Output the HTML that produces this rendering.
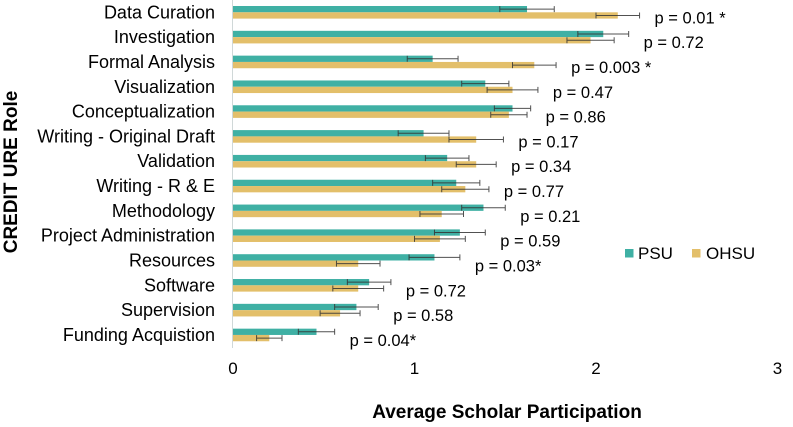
<!DOCTYPE html>
<html><head><meta charset="utf-8"><style>
body{margin:0;background:#fff;width:793px;height:422px;overflow:hidden}
svg{font-family:"Liberation Sans",Arial,sans-serif}
</style></head><body>
<svg id="chart" width="793" height="422">
<line x1="232.5" y1="0" x2="232.5" y2="348" stroke="#d0d8d8" stroke-width="1"/>
<text x="17" y="172" transform="rotate(-90 17 172)" text-anchor="middle" font-size="19" font-weight="bold">CREDIT URE Role</text>
<text x="507" y="418" text-anchor="middle" font-size="19" font-weight="bold">Average Scholar Participation</text>
<g>
<rect x="625" y="249" width="8.5" height="8.5" fill="#3fb0a4"/>
<text x="638" y="259" font-size="17">PSU</text>
<rect x="692" y="249" width="8.5" height="8.5" fill="#e3bf6a"/>
<text x="706" y="259" font-size="17">OHSU</text>
</g>
</svg>
<script>
const categories=["Data Curation","Investigation","Formal Analysis","Visualization","Conceptualization","Writing - Original Draft","Validation","Writing - R & E","Methodology","Project Administration","Resources","Software","Supervision","Funding Acquistion"];
const psuValues=[1.62,2.04,1.10,1.39,1.54,1.05,1.18,1.23,1.38,1.25,1.11,0.75,0.68,0.46];
const psuErrors=[0.15,0.14,0.14,0.13,0.10,0.14,0.12,0.13,0.12,0.14,0.14,0.12,0.12,0.10];
const ohsuValues=[2.12,1.97,1.66,1.54,1.52,1.34,1.34,1.28,1.15,1.14,0.69,0.69,0.59,0.20];
const ohsuErrors=[0.12,0.13,0.12,0.14,0.10,0.15,0.11,0.13,0.12,0.14,0.12,0.14,0.11,0.07];
const pLabels=["p = 0.01 *","p = 0.72","p = 0.003 *","p = 0.47","p = 0.86","p = 0.17","p = 0.34","p = 0.77","p = 0.21","p = 0.59","p = 0.03*","p = 0.72","p = 0.58","p = 0.04*"];
const xTicks=[0,1,2,3];

const svg=document.getElementById('chart');
const NS='http://www.w3.org/2000/svg';
const x=v=>233+v*181.5;
const yc=i=>12.3+i*24.82;
const bh=6.3;
function mk(tag,attrs){const e=document.createElementNS(NS,tag);for(const k in attrs)e.setAttribute(k,attrs[k]);svg.appendChild(e);return e;}
function errBar(v,e,cy){
  return mk('path',{d:`M${x(v-e)},${cy}H${x(v+e)}M${x(v-e)},${cy-3}V${cy+3}M${x(v+e)},${cy-3}V${cy+3}`,stroke:'#333','stroke-width':1,fill:'none',opacity:0.85});
}
xTicks.forEach(t=>{
  const tl=mk('text',{x:x(t),y:374,'text-anchor':'middle','font-size':17});
  tl.textContent=t;
  
  
});
categories.forEach((c,i)=>{
  const cy=yc(i);
  const lab=mk('text',{x:215,y:cy+6,'text-anchor':'end','font-size':18});
  lab.textContent=c;
  
  
  const pb=mk('rect',{x:x(0),y:cy-bh,width:x(psuValues[i])-x(0),height:bh,fill:'#3fb0a4'});
  
  
  const ob=mk('rect',{x:x(0),y:cy,width:x(ohsuValues[i])-x(0),height:bh,fill:'#e3bf6a'});
  
  
  const pe=errBar(psuValues[i],psuErrors[i],cy-bh/2);
  
  
  const oe=errBar(ohsuValues[i],ohsuErrors[i],cy+bh/2);
  
  
  const end=Math.max(x(psuValues[i]+psuErrors[i]),x(ohsuValues[i]+ohsuErrors[i]));
  const pt=mk('text',{x:end+15,y:cy+11,'font-size':16.5});
  pt.textContent=pLabels[i];
  
  
});
</script>
</body></html>
